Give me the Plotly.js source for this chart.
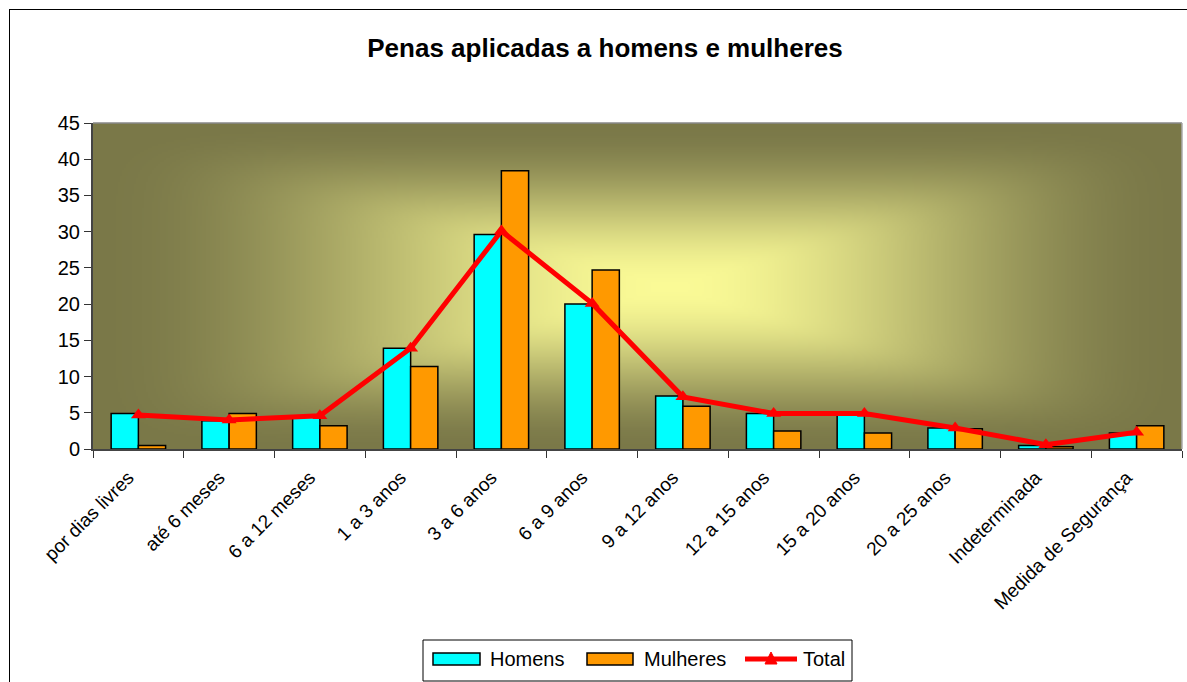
<!DOCTYPE html>
<html><head><meta charset="utf-8">
<script src="https://cdn.plot.ly/plotly-3.0.1.min.js"></script>
<style>
html,body{margin:0;padding:0;background:#fff;overflow:hidden}
#frame{position:absolute;left:9px;top:9px;width:1200px;height:700px;border:1px solid #000;box-sizing:border-box}
#chart{position:absolute;left:0;top:0;width:1187px;height:682px}
</style></head>
<body>
<div id="frame"></div>
<div id="chart"></div>
<script>
const categories = ["por dias livres","até 6 meses","6 a 12 meses","1 a 3 anos","3 a 6 anos","6 a 9 anos","9 a 12 anos","12 a 15 anos","15 a 20 anos","20 a 25 anos","Indeterminada","Medida de Segurança"];
const homens   = [4.9, 3.9, 4.6, 13.9, 29.6, 20.0, 7.3, 4.9, 4.9, 2.9, 0.5, 2.2];
const mulheres = [0.5, 4.9, 3.2, 11.4, 38.4, 24.7, 5.9, 2.5, 2.2, 2.8, 0.3, 3.2];
const total    = [4.7, 4.0, 4.6, 13.9, 30.1, 20.1, 7.2, 4.9, 4.9, 2.9, 0.6, 2.3];
const seriesNames = ["Homens", "Mulheres", "Total"];
const colHomens = '#00ffff', colMulheres = '#ff9900', colTotal = '#ff0000';

function gradientURL(){
  const W=545, H=163;
  const c=document.createElement('canvas'); c.width=W; c.height=H;
  const ctx=c.getContext('2d');
  const img=ctx.createImageData(W,H);
  const cx=W*0.53, cy=H*0.5;
  const c0=[250,250,150], c1=[122,120,72];
  for(let y=0;y<H;y++){
    for(let x=0;x<W;x++){
      const dx=Math.abs(x-cx)/(x<cx?cx:(W-cx)), dy=Math.abs(y-cy)/(H/2);
      let t=Math.pow(Math.pow(dx,8)+Math.pow(dy,8),1/8); t=Math.min(1,t);
      const s=t*t*(3-2*t);
      const i=(y*W+x)*4;
      for(let k=0;k<3;k++) img.data[i+k]=Math.round(c0[k]+(c1[k]-c0[k])*s);
      img.data[i+3]=255;
    }
  }
  ctx.putImageData(img,0,0);
  return c.toDataURL();
}

const font = "Arial, 'Liberation Sans', sans-serif";
const PL=93, PR=1182, PT=123, PB=449;
const X = px => (px-PL)/(PR-PL);
const Y = py => (PB-py)/(PB-PT);

const data = [
  {type:'bar', name:seriesNames[0], x:categories, y:homens,
   marker:{color:colHomens, line:{color:'#000', width:1.5}}},
  {type:'bar', name:seriesNames[1], x:categories, y:mulheres,
   marker:{color:colMulheres, line:{color:'#000', width:1.5}}},
  {type:'scatter', mode:'lines+markers', name:seriesNames[2], x:categories, y:total,
   line:{color:colTotal, width:5}, marker:{symbol:'triangle-up', size:13, color:colTotal}}
];

// custom legend (wide swatches like the original)
const legShapes = [
  {type:'rect', xref:'paper', yref:'paper', x0:X(423), x1:X(852), y0:Y(640), y1:Y(681), line:{color:'#000', width:1}, fillcolor:'#fff'},
  {type:'rect', xref:'paper', yref:'paper', x0:X(433), x1:X(480), y0:Y(653), y1:Y(665), line:{color:'#000', width:1.5}, fillcolor:colHomens},
  {type:'rect', xref:'paper', yref:'paper', x0:X(587), x1:X(633), y0:Y(653), y1:Y(665), line:{color:'#000', width:1.5}, fillcolor:colMulheres},
  {type:'line', xref:'paper', yref:'paper', x0:X(745), x1:X(797), y0:Y(659), y1:Y(659), line:{color:colTotal, width:5}},
  {type:'path', xref:'paper', yref:'paper',
   path:`M ${X(765)} ${Y(664)} L ${X(777)} ${Y(664)} L ${X(771)} ${Y(652)} Z`, fillcolor:colTotal, line:{color:colTotal, width:1}}
];
const legAnn = [
  {text:seriesNames[0], px:488},
  {text:seriesNames[1], px:642},
  {text:seriesNames[2], px:801}
].map(o=>({text:o.text, xref:'paper', yref:'paper', x:X(o.px), y:Y(659), xanchor:'left', yanchor:'middle',
  showarrow:false, font:{family:font, size:20, color:'#000'}}));

const layout = {
  width:1187, height:682,
  margin:{l:PL, r:1187-PR, t:PT, b:682-PB},
  paper_bgcolor:'rgba(0,0,0,0)', plot_bgcolor:'rgba(0,0,0,0)',
  font:{family:font, size:16, color:'#000'},
  title:{text:'<b>Penas aplicadas a homens e mulheres</b>', x:605/1187, xref:'container', xanchor:'center',
         y:1-48/682, yref:'container', yanchor:'middle', font:{family:font, size:26, color:'#000'}},
  barmode:'group', bargap:0.4, bargroupgap:0,
  xaxis:{type:'category', range:[-0.5, 11.5], tickangle:-45, ticks:'outside', tickson:'boundaries', ticklen:7,
         tickcolor:'#333', showline:true, linecolor:'#444', linewidth:2, showgrid:false,
         ticklabelstandoff:8, ticklabelshift:-10,
         tickfont:{family:font, size:19}, automargin:false},
  yaxis:{range:[0,45], dtick:5, ticks:'outside', ticklen:7, tickcolor:'#333', showline:true,
         linecolor:'#444', linewidth:2, showgrid:false, zeroline:false,
         tickfont:{family:font, size:20}, automargin:false},
  showlegend:false,
  images:[{source:gradientURL(), xref:'paper', yref:'paper', x:0, y:1, sizex:1, sizey:1,
           xanchor:'left', yanchor:'top', sizing:'stretch', layer:'below'}],
  shapes:[{type:'line', xref:'paper', yref:'paper', x0:0, x1:1, y0:1, y1:1, line:{color:'#888', width:1.5}},
          {type:'line', xref:'paper', yref:'paper', x0:1, x1:1, y0:0, y1:1, line:{color:'#aaa', width:1.5}}].concat(legShapes),
  annotations:legAnn
};
Plotly.newPlot('chart', data, layout, {displayModeBar:false, staticPlot:true});
</script>
</body></html>
